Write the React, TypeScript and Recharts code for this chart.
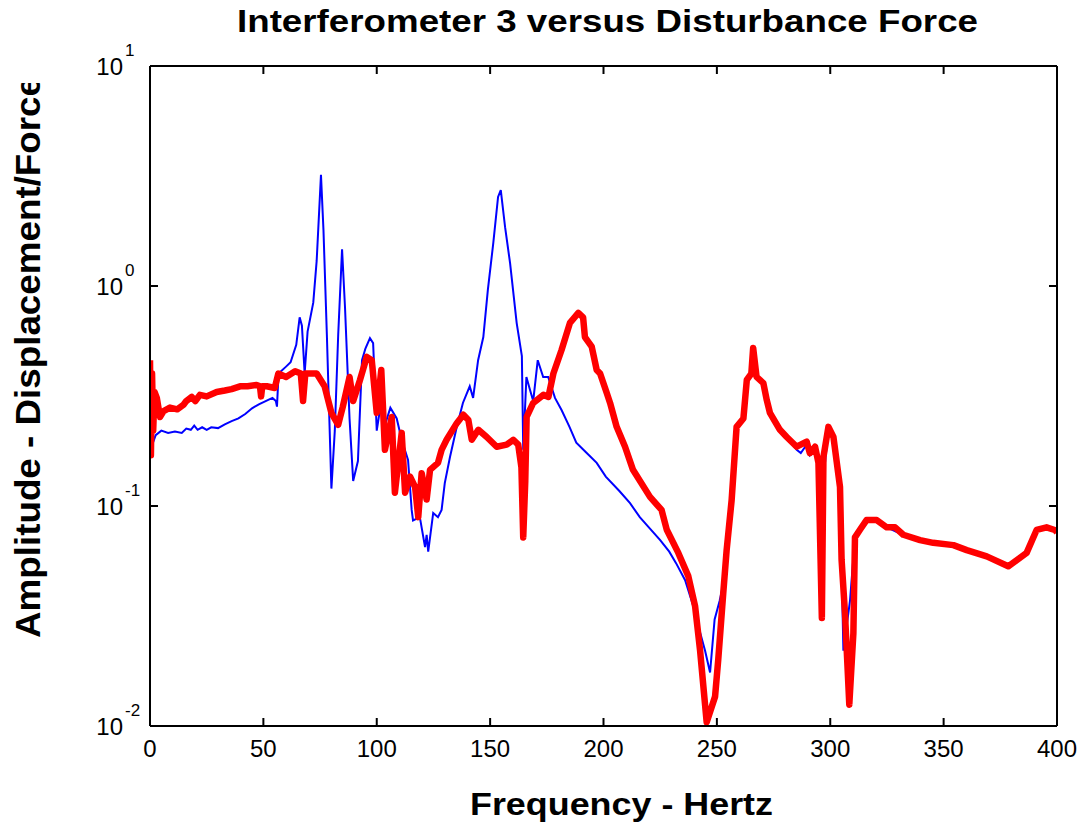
import React from "react";
import { Line, LineChart, XAxis, YAxis } from "recharts";

const FONT = "'Liberation Sans', Arial, Helvetica, sans-serif";

// frequency (Hz) / amplitude pairs
const blueFreq = [
  0, 1, 2.5, 5, 8, 11, 14, 16, 18, 19.5, 21, 23, 25, 27, 30, 33, 36, 39, 42, 45, 48, 51, 54, 55.5, 56,
  56.7, 60, 62, 64.5, 66, 67, 68.2, 69.5, 72, 73.5, 75.4, 76.5, 78, 80, 81.5, 83, 84.7, 86, 88, 89.6,
  91.7, 93.5, 95, 97, 98.4, 100, 102, 104, 106, 108.8, 111, 113.8, 115.4, 116, 119, 121.3, 122, 122.7,
  124.9, 127, 128.6, 130, 132.3, 135.3, 138, 141, 142.5, 144.7, 147, 149, 151.4, 153.5, 154.7, 156.6,
  158.8, 161.7, 164, 164.6, 166, 167.6, 169, 171, 173.4, 175.6, 178.6, 181.5, 185, 188, 192.6, 197, 201,
  207, 211.7, 216, 220, 225, 229, 232, 236, 240, 242, 244.8, 247, 249, 251.2, 253, 254.3, 256.5, 258.7,
  261.7, 263.2, 265, 266, 267.5, 270.5, 273.4, 277.8, 280.8, 285.2, 287, 289.6, 291, 293.3, 295.5, 296.5,
  297.5, 299.2, 301.4, 304.3, 305.8, 308.7, 310.9, 313, 316, 320.5, 325, 332, 340, 345, 354, 360, 369,
  378.5, 386.6, 391, 395.4, 400,
];
const blueAmp = [
  0.17, 0.19, 0.21, 0.22, 0.215, 0.218, 0.215, 0.225, 0.222, 0.232, 0.222, 0.228, 0.222, 0.228, 0.226,
  0.235, 0.243, 0.25, 0.262, 0.278, 0.29, 0.3, 0.31, 0.3, 0.283, 0.4, 0.43, 0.45, 0.54, 0.72, 0.66, 0.4,
  0.62, 0.84, 1.3, 3.2, 1.8, 0.6, 0.12, 0.22, 0.6, 1.47, 0.8, 0.25, 0.13, 0.16, 0.46, 0.52, 0.58, 0.55,
  0.22, 0.3, 0.24, 0.28, 0.25, 0.2, 0.162, 0.096, 0.086, 0.089, 0.065, 0.074, 0.062, 0.093, 0.089, 0.096,
  0.127, 0.167, 0.229, 0.294, 0.35, 0.31, 0.46, 0.586, 0.96, 1.57, 2.54, 2.73, 1.85, 1.27, 0.68, 0.48,
  0.18, 0.386, 0.337, 0.3, 0.46, 0.386, 0.386, 0.31, 0.273, 0.229, 0.194, 0.174, 0.157, 0.136, 0.117,
  0.103, 0.089, 0.08, 0.07, 0.062, 0.055, 0.046, 0.034, 0.028, 0.022, 0.0175, 0.0305, 0.037, 0.045,
  0.063, 0.106, 0.229, 0.25, 0.36, 0.4, 0.48, 0.386, 0.36, 0.265, 0.222, 0.206, 0.18, 0.174, 0.19, 0.17,
  0.18, 0.13, 0.04, 0.15, 0.225, 0.2, 0.12, 0.022, 0.037, 0.072, 0.078, 0.085, 0.086, 0.08, 0.074, 0.07,
  0.068, 0.066, 0.063, 0.059, 0.053, 0.061, 0.077, 0.08, 0.077,
];

const redFreq = [
  0, 0.4, 0.9, 1.4, 2, 3, 4.4, 6, 8.8, 12, 14.7, 16, 18.4, 20, 22, 25, 29.4, 33, 36, 39.7, 43, 47, 48.5,
  49, 49.5, 51.5, 55, 56.6, 60, 64, 66.5, 67.5, 68.5, 70.6, 73.5, 77, 80, 83, 85, 88, 89.6, 92.6, 95.6,
  97.8, 100, 102, 103.6, 106.6, 108, 111, 112.5, 114.7, 116.9, 118.3, 119.8, 122, 123.5, 127, 128.6,
  130.8, 135.3, 138.2, 140.4, 141.9, 144.8, 148.5, 152.9, 157.3, 160.2, 162.4, 163.8, 164.6, 165.5,
  166.1, 169, 173.5, 175.7, 177.9, 181.5, 185.2, 188.9, 191, 191.8, 194.8, 197, 198.5, 201.4, 202.9,
  205.8, 209.5, 213, 220.5, 225.6, 227.9, 233, 237.4, 240.4, 242.6, 245.5, 249.2, 250.6, 252.8, 254.3,
  256.5, 258.7, 261.7, 263.2, 265.2, 266, 267.5, 270.5, 272, 273.4, 277.8, 280.8, 285.2, 289.6, 291,
  293.3, 294.8, 296.3, 297, 299.2, 301.4, 304.3, 305, 306.5, 308.4, 310.2, 310.9, 313.1, 316, 320.5,
  324.9, 328.6, 332.2, 339.6, 345.4, 354.3, 360.2, 369, 378.5, 386.6, 391, 395.4, 399, 400,
];
const redAmp = [
  0.46, 0.17, 0.4, 0.22, 0.33, 0.31, 0.254, 0.27, 0.28, 0.275, 0.288, 0.3, 0.313, 0.3, 0.32, 0.315, 0.33,
  0.335, 0.34, 0.35, 0.35, 0.355, 0.35, 0.315, 0.35, 0.35, 0.344, 0.4, 0.386, 0.41, 0.4, 0.3, 0.4, 0.4,
  0.4, 0.35, 0.265, 0.234, 0.282, 0.386, 0.3, 0.374, 0.476, 0.46, 0.265, 0.415, 0.18, 0.254, 0.115,
  0.215, 0.115, 0.136, 0.122, 0.089, 0.141, 0.107, 0.146, 0.157, 0.18, 0.2, 0.238, 0.26, 0.246, 0.2,
  0.222, 0.206, 0.186, 0.19, 0.2, 0.19, 0.15, 0.072, 0.13, 0.254, 0.294, 0.32, 0.313, 0.4, 0.512, 0.68,
  0.754, 0.72, 0.586, 0.53, 0.415, 0.4, 0.327, 0.294, 0.229, 0.186, 0.146, 0.11, 0.096, 0.078, 0.0612,
  0.048, 0.035, 0.022, 0.0104, 0.0136, 0.02, 0.04, 0.063, 0.106, 0.229, 0.25, 0.374, 0.4, 0.523, 0.386,
  0.362, 0.303, 0.265, 0.222, 0.206, 0.186, 0.196, 0.174, 0.186, 0.157, 0.031, 0.167, 0.229, 0.206,
  0.122, 0.057, 0.0326, 0.0125, 0.0264, 0.072, 0.078, 0.0863, 0.0863, 0.08, 0.08, 0.074, 0.07, 0.068,
  0.0664, 0.063, 0.059, 0.0532, 0.0612, 0.0778, 0.08, 0.0778, 0.076,
];

const xTicks = [0, 50, 100, 150, 200, 250, 300, 350, 400];
const yTicks = [0.01, 0.1, 1, 10];

const blueData = blueFreq.map((f, i) => ({ f, amp: blueAmp[i] }));
const redData = redFreq.map((f, i) => ({ f, amp: redAmp[i] }));

const TICK = 8;

function BottomTick({ x, y, payload }: any) {
  return (
    <g>
      <line x1={x} y1={y} x2={x} y2={y - TICK} stroke="#000" strokeWidth={2} />
      <text x={x} y={y + 31} textAnchor="middle" fontSize={24} fontFamily={FONT} fill="#000">
        {payload.value}
      </text>
    </g>
  );
}

function TopTick({ x, y }: any) {
  return <line x1={x} y1={y} x2={x} y2={y + TICK} stroke="#000" strokeWidth={2} />;
}

function LeftTick({ x, y, payload }: any) {
  const exp = Math.round(Math.log10(payload.value));
  return (
    <g fontFamily={FONT} fill="#000">
      <line x1={x} y1={y} x2={x + TICK} y2={y} stroke="#000" strokeWidth={2} />
      <text x={x - 27} y={y + 9} textAnchor="end" fontSize={24}>
        10
      </text>
      <text x={x - 25} y={y - 10} fontSize={17}>
        {exp}
      </text>
    </g>
  );
}

function RightTick({ x, y }: any) {
  return <line x1={x} y1={y} x2={x - TICK} y2={y} stroke="#000" strokeWidth={2} />;
}

const axisLine = { stroke: "#000", strokeWidth: 2 };

export default function App() {
  return (
    <div style={{ position: "absolute", left: 0, top: 0, width: 1087, height: 825, background: "#fff" }}>
      <LineChart width={1087} height={825} margin={{ top: 65, right: 29, bottom: 98, left: 149 }}>
        <XAxis
          xAxisId="bottom"
          dataKey="f"
          type="number"
          domain={[0, 400]}
          ticks={xTicks}
          height={1}
          tickSize={0}
          tickMargin={0}
          tickLine={false}
          axisLine={axisLine}
          tick={BottomTick}
          interval={0}
          allowDataOverflow
        />
        <XAxis
          xAxisId="top"
          orientation="top"
          dataKey="f"
          type="number"
          domain={[0, 400]}
          ticks={xTicks}
          height={1}
          tickSize={0}
          tickMargin={0}
          tickLine={false}
          axisLine={axisLine}
          tick={TopTick}
          interval={0}
          allowDataOverflow
        />
        <YAxis
          yAxisId="left"
          type="number"
          scale="log"
          domain={[0.01, 10]}
          ticks={yTicks}
          width={1}
          tickSize={0}
          tickMargin={0}
          tickLine={false}
          axisLine={axisLine}
          tick={LeftTick}
          interval={0}
          allowDataOverflow
        />
        <YAxis
          yAxisId="right"
          orientation="right"
          type="number"
          scale="log"
          domain={[0.01, 10]}
          ticks={yTicks}
          width={1}
          tickSize={0}
          tickMargin={0}
          tickLine={false}
          axisLine={axisLine}
          tick={RightTick}
          interval={0}
          allowDataOverflow
        />
        <Line
          xAxisId="bottom"
          yAxisId="left"
          data={blueData}
          dataKey="amp"
          type="linear"
          stroke="#0000ff"
          strokeWidth={2}
          dot={false}
          isAnimationActive={false}
        />
        <Line
          xAxisId="bottom"
          yAxisId="left"
          data={redData}
          dataKey="amp"
          type="linear"
          stroke="#ff0000"
          strokeWidth={6.5}
          strokeLinejoin="round"
          dot={false}
          isAnimationActive={false}
        />
      </LineChart>
      <svg
        width={1087}
        height={825}
        style={{ position: "absolute", left: 0, top: 0, pointerEvents: "none" }}
        fontFamily={FONT}
        fontWeight="bold"
        fill="#000"
      >
        <defs>
          <clipPath id="ylabelClip">
            <rect x={0} y={83} width={100} height={742} />
          </clipPath>
        </defs>
        <text x={237} y={32} fontSize={31} textLength={741} lengthAdjust="spacingAndGlyphs">
          Interferometer 3 versus Disturbance Force
        </text>
        <text x={470} y={815} fontSize={31} textLength={303} lengthAdjust="spacingAndGlyphs">
          Frequency - Hertz
        </text>
        <g clipPath="url(#ylabelClip)">
          <text
            transform="translate(40,638) rotate(-90)"
            fontSize={35}
            textLength={562}
            lengthAdjust="spacingAndGlyphs"
          >
            Amplitude - Displacement/Force
          </text>
        </g>
      </svg>
    </div>
  );
}
